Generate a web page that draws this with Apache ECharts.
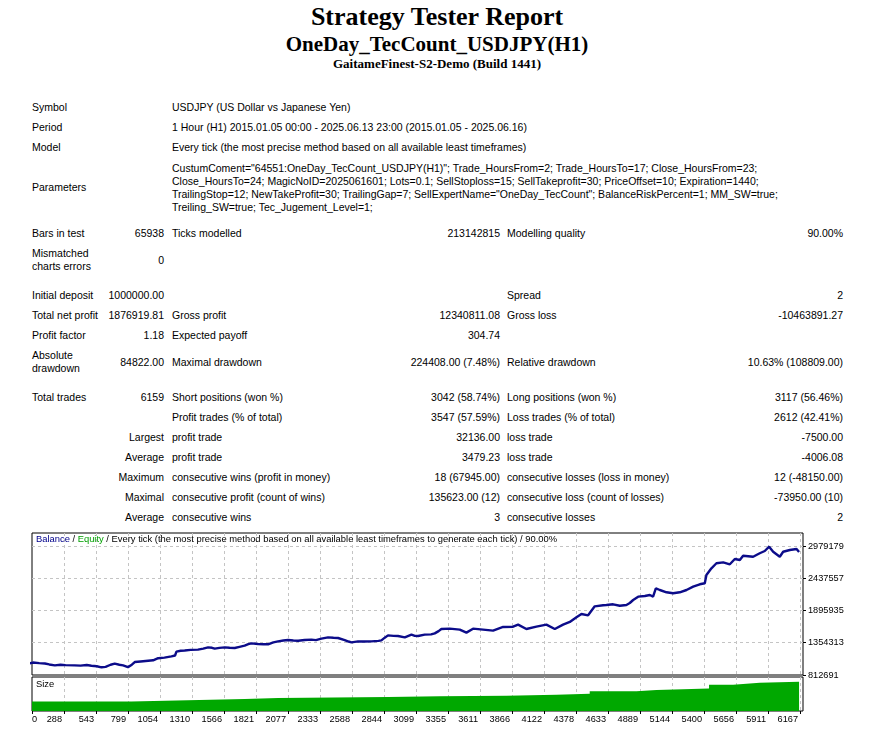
<!DOCTYPE html>
<html>
<head>
<meta charset="utf-8">
<script src="https://cdn.jsdelivr.net/npm/echarts/dist/echarts.min.js"></script>
<style>
html,body{margin:0;padding:0;background:#fff;}
body{width:874px;height:734px;position:relative;overflow:hidden;font-family:'Liberation Sans',Arial,sans-serif;}
.h{position:absolute;left:0;width:874px;text-align:center;font-family:'Liberation Serif','Times New Roman',serif;font-weight:bold;color:#000;white-space:nowrap;}
.s{position:absolute;font-size:10.5px;line-height:13px;color:#000;white-space:nowrap;}
.r{text-align:right;}
#c{position:absolute;left:0;top:520px;width:874px;height:214px;}
</style>
</head>
<body>
<div class="h" style="top:4px;font-size:26px;line-height:26px;">Strategy Tester Report</div>
<div class="h" style="top:34px;font-size:21px;line-height:21px;">OneDay_TecCount_USDJPY(H1)</div>
<div class="h" style="top:57px;font-size:13px;line-height:13px;">GaitameFinest-S2-Demo (Build 1441)</div>
<div id="report"></div>
<div id="c"></div>
<script>
// ---------- report text ----------
const reportRows = [
  [100.5, [['Symbol','A'], ['USDJPY (US Dollar vs Japanese Yen)','C']]],
  [120.5, [['Period','A'], ['1 Hour (H1) 2015.01.05 00:00 - 2025.06.13 23:00 (2015.01.05 - 2025.06.16)','C']]],
  [140.5, [['Model','A'], ['Every tick (the most precise method based on all available least timeframes)','C']]],
  [181.3, [['Parameters','A']]],
  [161.8, [['CustumComent="64551:OneDay_TecCount_USDJPY(H1)"; Trade_HoursFrom=2; Trade_HoursTo=17; Close_HoursFrom=23;<br>Close_HoursTo=24; MagicNoID=2025061601; Lots=0.1; SellStoploss=15; SellTakeprofit=30; PriceOffset=10; Expiration=1440;<br>TrailingStop=12; NewTakeProfit=30; TrailingGap=7; SellExpertName="OneDay_TecCount"; BalanceRiskPercent=1; MM_SW=true;<br>Treiling_SW=true; Tec_Jugement_Level=1;','C']]],
  [227, [['Bars in test','A'], ['65938','B'], ['Ticks modelled','C'], ['213142815','D'], ['Modelling quality','E'], ['90.00%','F']]],
  [247, [['Mismatched<br>charts errors','A']]],
  [253.5, [['0','B']]],
  [288.7, [['Initial deposit','A'], ['1000000.00','B'], ['Spread','E'], ['2','F']]],
  [308.7, [['Total net profit','A'], ['1876919.81','B'], ['Gross profit','C'], ['12340811.08','D'], ['Gross loss','E'], ['-10463891.27','F']]],
  [328.7, [['Profit factor','A'], ['1.18','B'], ['Expected payoff','C'], ['304.74','D']]],
  [349, [['Absolute<br>drawdown','A']]],
  [355.5, [['84822.00','B'], ['Maximal drawdown','C'], ['224408.00 (7.48%)','D'], ['Relative drawdown','E'], ['10.63% (108809.00)','F']]],
  [390.7, [['Total trades','A'], ['6159','B'], ['Short positions (won %)','C'], ['3042 (58.74%)','D'], ['Long positions (won %)','E'], ['3117 (56.46%)','F']]],
  [410.7, [['Profit trades (% of total)','C'], ['3547 (57.59%)','D'], ['Loss trades (% of total)','E'], ['2612 (42.41%)','F']]],
  [430.7, [['Largest','B'], ['profit trade','C'], ['32136.00','D'], ['loss trade','E'], ['-7500.00','F']]],
  [450.7, [['Average','B'], ['profit trade','C'], ['3479.23','D'], ['loss trade','E'], ['-4006.08','F']]],
  [470.7, [['Maximum','B'], ['consecutive wins (profit in money)','C'], ['18 (67945.00)','D'], ['consecutive losses (loss in money)','E'], ['12 (-48150.00)','F']]],
  [490.7, [['Maximal','B'], ['consecutive profit (count of wins)','C'], ['135623.00 (12)','D'], ['consecutive loss (count of losses)','E'], ['-73950.00 (10)','F']]],
  [510.7, [['Average','B'], ['consecutive wins','C'], ['3','D'], ['consecutive losses','E'], ['2','F']]]
];
const colLeft = {A:32, C:172, E:507};
const colRight = {B:164, D:500, F:843};
let html = '';
reportRows.forEach(function(row){
  row[1].forEach(function(cell){
    const c = cell[1];
    if (colLeft[c] !== undefined) {
      html += '<div class="s" style="left:' + colLeft[c] + 'px;top:' + row[0] + 'px">' + cell[0] + '</div>';
    } else {
      html += '<div class="s r" style="right:' + (874 - colRight[c]) + 'px;top:' + row[0] + 'px">' + cell[0] + '</div>';
    }
  });
});
document.getElementById('report').innerHTML = html;

// ---------- chart data ----------
const balancePoints = [
  [0,1000000],[40,1022000],[90,1012000],[135,1005000],[170,990000],[215,975000],[260,985000],[300,978000],
  [373,975000],[420,970000],[470,980000],[507,968000],[550,960000],[587,942000],[620,950000],[660,985000],
  [693,1003000],[730,985000],[760,975000],[799,945000],[830,985000],[853,1030000],[900,1040000],[960,1053000],
  [1000,1060000],[1040,1095000],[1090,1105000],[1146,1126000],[1175,1140000],[1186,1205000],[1220,1220000],
  [1252,1225000],[1300,1235000],[1358,1238000],[1400,1255000],[1439,1277000],[1470,1270000],[1492,1255000],
  [1530,1268000],[1572,1277000],[1610,1270000],[1652,1266000],[1690,1285000],[1731,1305000],[1760,1330000],
  [1785,1344000],[1838,1333000],[1880,1330000],[1918,1328000],[1960,1360000],[1998,1378000],[2040,1392000],
  [2078,1400000],[2120,1392000],[2158,1389000],[2210,1400000],[2264,1406000],[2300,1398000],[2344,1423000],
  [2397,1445000],[2440,1438000],[2477,1434000],[2530,1400000],[2560,1375000],[2584,1361000],[2637,1378000],
  [2690,1375000],[2743,1378000],[2800,1385000],[2823,1395000],[2850,1440000],[2876,1478000],[2920,1470000],
  [2956,1468000],[3010,1445000],[3063,1490000],[3090,1470000],[3116,1467000],[3169,1490000],[3220,1495000],
  [3249,1512000],[3280,1550000],[3302,1585000],[3369,1591000],[3449,1574000],[3502,1524000],[3555,1591000],
  [3635,1574000],[3715,1557000],[3795,1619000],[3875,1624000],[3915,1658000],[3981,1585000],[4061,1624000],
  [4141,1658000],[4208,1585000],[4274,1658000],[4328,1703000],[4381,1781000],[4421,1837000],[4474,1815000],
  [4527,1966000],[4540,1988000],[4594,1983000],[4620,1988000],[4674,2000000],[4727,1976000],[4780,1988000],
  [4807,2022000],[4834,2072000],[4874,2128000],[4927,2139000],[4967,2156000],[4993,2128000],[5015,2269000],
  [5047,2240000],[5100,2202000],[5153,2185000],[5206,2202000],[5260,2240000],[5313,2296000],[5366,2336000],
  [5406,2353000],[5419,2492000],[5459,2605000],[5499,2689000],[5553,2705000],[5606,2672000],[5646,2761000],
  [5686,2744000],[5712,2816000],[5792,2799000],[5845,2857000],[5885,2895000],[5920,2967000],[5952,2883000],
  [6005,2799000],[6032,2883000],[6085,2912000],[6139,2929000],[6159,2876920]
];
const sizeTrades = [0, 826, 1186, 1731, 1998, 2876, 3289, 3822, 4221, 4487, 4860, 5020, 5440, 5632, 5845, 6159];
const sizeLots   = [1.0, 1.1, 1.25, 1.35, 1.45, 1.55, 1.6, 1.7, 1.8, 2.05, 2.2, 2.35, 2.75, 2.95, 3.05, 3.05];

const xTickLabels = ['0','288','543','799','1054','1310','1566','1821','2077','2333','2588','2844','3099',
  '3355','3611','3866','4122','4378','4633','4889','5144','5400','5656','5911','6167'];
const yTickLabels = ['812691','1354313','1895935','2437557','2979179'];

const X_INT = 255.58, X_MIN = 288 - 255.58, X_MAX = 6190.4;
const Y_MIN = 812691, Y_INT = 541622, Y_MAX = 3197439;

const sizeData = sizeTrades.map(function(t, i){ return [t, sizeLots[i]]; });

const FONT = 'Liberation Sans';
const grid = '#c4c4c4';
const chart = echarts.init(document.getElementById('c'), null, {renderer:'canvas'});
const xBase = {
  type:'value', min:X_MIN, max:X_MAX, interval:X_INT,
  axisLine:{show:false},
  splitLine:{show:true, showMinLine:false, showMaxLine:false, lineStyle:{color:grid, type:[3,3], width:1}}
};
chart.setOption({
  animation:false,
  title:[
    {text:'{b|Balance} / {e|Equity} / Every tick (the most precise method based on all available least timeframes to generate each tick) / 90.00%',
     left:36, top:15, padding:0,
     textStyle:{fontSize:9.4, fontWeight:'normal', color:'#000', fontFamily:FONT,
       rich:{b:{color:'#00008b', fontSize:9.4, fontFamily:FONT}, e:{color:'#00a000', fontSize:9.4, fontFamily:FONT}}}},
    {text:'Size', left:36, top:160, padding:0, textStyle:{fontSize:9.4, fontWeight:'normal', color:'#000', fontFamily:FONT}}
  ],
  grid:[
    {left:32, top:13, width:771, height:142, show:true, borderColor:'#000', borderWidth:1},
    {left:32, top:157, width:771, height:34, show:true, borderColor:'#000', borderWidth:1}
  ],
  xAxis:[
    Object.assign({}, xBase, {gridIndex:0, axisTick:{show:false}, axisLabel:{show:false}}),
    Object.assign({}, xBase, {gridIndex:1,
      axisTick:{show:true, length:3, lineStyle:{color:'#000'}},
      axisLabel:{show:true, showMinLabel:true, showMaxLabel:false, align:'right', alignMinLabel:'left',
        padding:[0,2,0,0], margin:4, fontSize:9.2, color:'#000', fontFamily:FONT,
        formatter:function(v){ const i = Math.round((v - X_MIN)/X_INT); return xTickLabels[i] !== undefined ? xTickLabels[i] : ''; }}})
  ],
  yAxis:[
    {gridIndex:0, type:'value', position:'right', min:Y_MIN, max:Y_MAX, interval:Y_INT,
     axisLine:{show:false},
     axisTick:{show:true, length:3, lineStyle:{color:'#000'}},
     axisLabel:{show:true, showMaxLabel:false, margin:5, fontSize:9.2, color:'#000', fontFamily:FONT,
       formatter:function(v){ const i = Math.round((v - Y_MIN)/Y_INT); return yTickLabels[i] !== undefined ? yTickLabels[i] : ''; }},
     splitLine:{show:true, showMinLine:false, showMaxLine:false, lineStyle:{color:grid, type:[3,3], width:1}}},
    {gridIndex:1, type:'value', min:0, max:3.55, show:false, splitLine:{show:false}}
  ],
  series:[
    {type:'line', name:'Size', xAxisIndex:1, yAxisIndex:1, data:sizeData, step:'end', showSymbol:false,
     lineStyle:{width:0, color:'#00a800'}, areaStyle:{color:'#00a800', opacity:1}, silent:true},
    {type:'line', name:'Balance', xAxisIndex:0, yAxisIndex:0, data:balancePoints, showSymbol:false,
     lineStyle:{width:2.4, color:'#0c0c8a'}, silent:true, clip:true}
  ]
});
</script>
</body>
</html>
